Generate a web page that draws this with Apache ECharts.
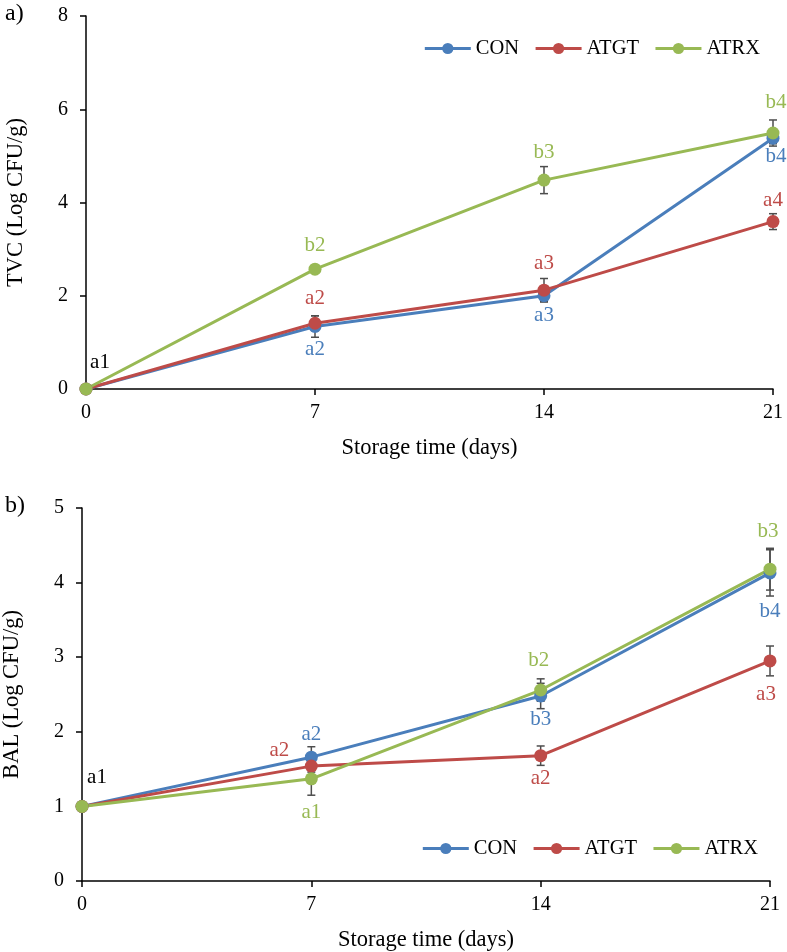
<!DOCTYPE html>
<html><head><meta charset="utf-8">
<script src="https://cdn.jsdelivr.net/npm/echarts@6/dist/echarts.min.js"></script>
<style>html,body{margin:0;padding:0;background:#fff}#c{width:787px;height:952px}</style>
</head><body><div id="c"></div>
<script>
// ---- data ----
const days = [0, 7, 14, 21];
const seriesNames = ['CON', 'ATGT', 'ATRX'];
// Panel a) TVC
const tvcCON = [0, 1.34, 2.00, 5.38];
const tvcATGT = [0, 1.41, 2.12, 3.59];
const tvcATRX = [0, 2.57, 4.48, 5.49];
const tvcCONerr = [0, 0.23, 0.13, 0.12];
const tvcATGTerr = [0, 0.16, 0.25, 0.17];
const tvcATRXerr = [0, 0.06, 0.29, 0.28];
const tvcCONlab = ['a1', 'a2', 'a3', 'b4'];
const tvcATGTlab = ['', 'a2', 'a3', 'a4'];
const tvcATRXlab = ['', 'b2', 'b3', 'b4'];
// Panel b) BAL
const balCON = [1, 1.66, 2.48, 4.13];
const balATGT = [1, 1.54, 1.68, 2.95];
const balATRX = [1, 1.37, 2.56, 4.18];
const balCONerr = [0, 0.14, 0.17, 0.31];
const balATGTerr = [0, 0.08, 0.13, 0.20];
const balATRXerr = [0, 0.22, 0.15, 0.28];
const balCONlab = ['a1', 'a2', 'b3', 'b4'];
const balATGTlab = ['', 'a2', 'a2', 'a3'];
const balATRXlab = ['', 'a1', 'b2', 'b3'];
const yTicksA = [0, 2, 4, 6, 8];
const yTicksB = [0, 1, 2, 3, 4, 5];

// ---- style ----
const FONT = 'Liberation Serif';
const colors = ['#4A7EBB', '#BE4B48', '#98B954'];
const errColor = '#4d4d4d';
// label offsets [dx,dy] per series per point
const offA = [
  [[14, -27], [0, 23], [0, 20], [3, 18]],
  [[0, 0], [0, -25], [0, -27], [0, -21]],
  [[0, 0], [0, -24], [0, -28], [3, -31]]
];
const offB = [
  [[15, -29], [0, -23], [0, 23], [0, 39]],
  [[0, 0], [-32, -16], [0, 23], [-4, 34]],
  [[0, 0], [0, 34], [-2, -30], [-2, -38]]
];

function lineSeries(name, idx, vals, labs, offs, gi) {
  return {
    name: name, type: 'line', xAxisIndex: gi, yAxisIndex: gi, z: 3,
    symbol: 'circle', symbolSize: 13, color: colors[idx],
    lineStyle: { width: 3, color: colors[idx] },
    itemStyle: { color: colors[idx] },
    emphasis: { disabled: true },
    data: vals.map((v, i) => ({
      value: [days[i], v],
      label: {
        show: labs[i] !== '', formatter: labs[i], position: 'inside',
        offset: offs[i], fontFamily: FONT, fontSize: 21,
        color: (i === 0 ? '#000' : colors[idx])
      }
    }))
  };
}
function errSeries(vals, errs, gi) {
  return {
    type: 'custom', xAxisIndex: gi, yAxisIndex: gi, z: 2, silent: true,
    data: vals.map((v, i) => [days[i], v, errs[i]]),
    renderItem: function (params, api) {
      const x = api.value(0), y = api.value(1), e = api.value(2);
      if (!e) return null;
      const hi = api.coord([x, y + e]), lo = api.coord([x, y - e]);
      const w = 4;
      const st = { stroke: errColor, lineWidth: 1.5 };
      return {
        type: 'group', children: [
          { type: 'line', shape: { x1: hi[0], y1: hi[1], x2: lo[0], y2: lo[1] }, style: st },
          { type: 'line', shape: { x1: hi[0] - w, y1: hi[1], x2: hi[0] + w, y2: hi[1] }, style: st },
          { type: 'line', shape: { x1: lo[0] - w, y1: lo[1], x2: lo[0] + w, y2: lo[1] }, style: st }
        ]
      };
    }
  };
}
function xAx(gi) {
  return {
    type: 'value', gridIndex: gi, min: 0, max: 21, interval: 7,
    name: 'Storage time (days)', nameLocation: 'middle', nameGap: 48,
    nameTextStyle: { fontFamily: FONT, fontSize: 22.5, color: '#000' },
    axisLine: { show: true, onZero: false, lineStyle: { color: '#000', width: 1.5 } },
    axisTick: { show: true, length: 6, lineStyle: { color: '#000', width: 1.5 } },
    axisLabel: { fontFamily: FONT, fontSize: 20, color: '#000', margin: 14 },
    splitLine: { show: false }
  };
}
function yAx(gi, max, interval, name) {
  return {
    type: 'value', gridIndex: gi, min: 0, max: max, interval: interval,
    name: name, nameLocation: 'middle', nameGap: 58,
    nameTextStyle: { fontFamily: FONT, fontSize: 22.5, color: '#000' },
    axisLine: { show: true, lineStyle: { color: '#000', width: 1.5 } },
    axisTick: { show: true, length: 6, lineStyle: { color: '#000', width: 1.5 } },
    axisLabel: { fontFamily: FONT, fontSize: 20, color: '#000', margin: 18 },
    splitLine: { show: false }
  };
}
const legendBase = {
  data: seriesNames, itemWidth: 46, itemHeight: 14, itemGap: 15,
  lineStyle: { width: 3 },
  textStyle: { fontFamily: FONT, fontSize: 20.5, color: '#000' }
};

const chart = echarts.init(document.getElementById('c'), null, { renderer: 'canvas' });
chart.setOption({
  animation: false,
  backgroundColor: '#fff',
  grid: [
    { left: 86, top: 16, width: 687, height: 373, containLabel: false, outerBoundsMode: 'none' },
    { left: 82, top: 508, width: 688, height: 373, containLabel: false, outerBoundsMode: 'none' }
  ],
  legend: [
    Object.assign({ right: 22, top: 33 }, legendBase),
    Object.assign({ right: 24, top: 833 }, legendBase)
  ],
  graphic: [
    { type: 'text', left: 5, top: 2, style: { text: 'a)', font: '24px "Liberation Serif"', fill: '#000' } },
    { type: 'text', left: 5, top: 494, style: { text: 'b)', font: '24px "Liberation Serif"', fill: '#000' } }
  ],
  xAxis: [xAx(0), xAx(1)],
  yAxis: [yAx(0, yTicksA[yTicksA.length - 1], yTicksA[1] - yTicksA[0], 'TVC (Log CFU/g)'),
          yAx(1, yTicksB[yTicksB.length - 1], yTicksB[1] - yTicksB[0], 'BAL (Log CFU/g)')],
  series: [
    errSeries(tvcCON, tvcCONerr, 0),
    errSeries(tvcATGT, tvcATGTerr, 0),
    errSeries(tvcATRX, tvcATRXerr, 0),
    lineSeries('CON', 0, tvcCON, tvcCONlab, offA[0], 0),
    lineSeries('ATGT', 1, tvcATGT, tvcATGTlab, offA[1], 0),
    lineSeries('ATRX', 2, tvcATRX, tvcATRXlab, offA[2], 0),
    errSeries(balCON, balCONerr, 1),
    errSeries(balATGT, balATGTerr, 1),
    errSeries(balATRX, balATRXerr, 1),
    lineSeries('CON', 0, balCON, balCONlab, offB[0], 1),
    lineSeries('ATGT', 1, balATGT, balATGTlab, offB[1], 1),
    lineSeries('ATRX', 2, balATRX, balATRXlab, offB[2], 1)
  ]
});
</script></body></html>
